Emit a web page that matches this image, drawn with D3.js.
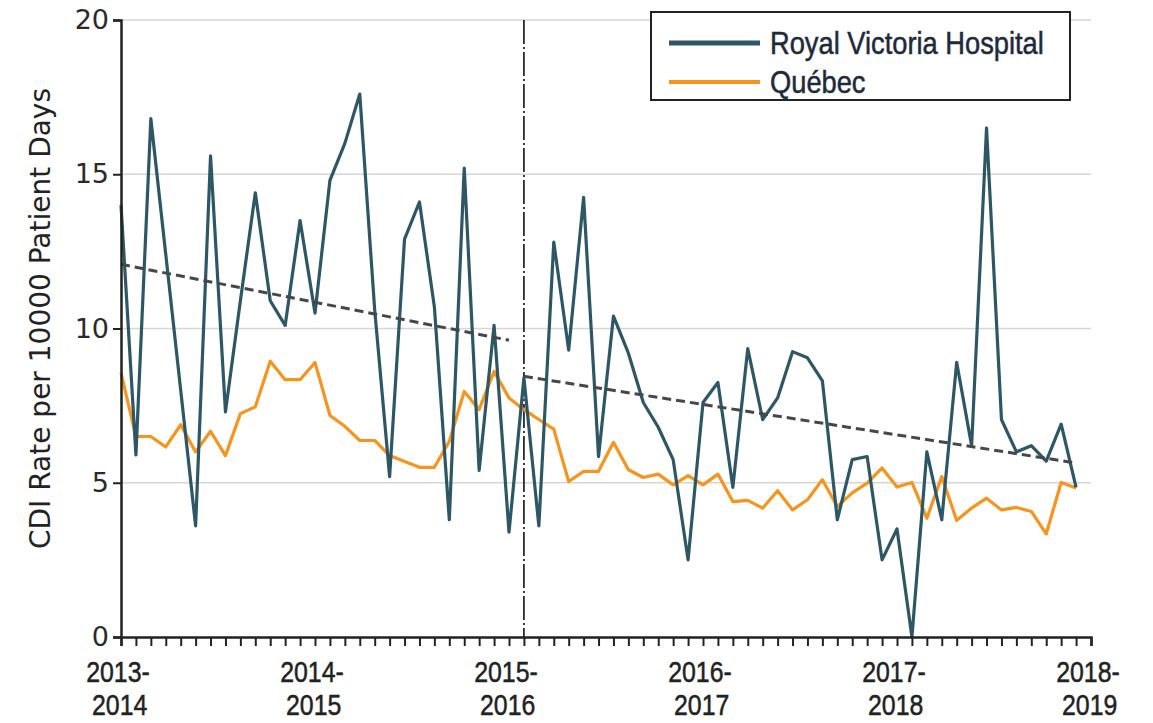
<!DOCTYPE html>
<html>
<head>
<meta charset="utf-8">
<script src="https://cdn.jsdelivr.net/npm/d3@7"></script>
<style>
  body { margin: 0; background: #fff; }
  svg { display: block; }
</style>
</head>
<body>
<svg id="chart" width="1153" height="723"></svg>
<script>
// fiscal periods (13 per year), index of first period of each year
const yearStarts = [0, 13, 26, 39, 52, 65];
const yearLabels = [['2013-', '2014'], ['2014-', '2015'], ['2015-', '2016'], ['2016-', '2017'], ['2017-', '2018'], ['2018-', '2019']];
const yTicks = [0, 5, 10, 15, 20];

// CDI rate per 10000 patient days, one value per period
const rvh = [14.0, 5.9, 16.8, 12.4, 8.0, 3.6, 15.6, 7.3, 10.9, 14.4,
  10.9, 10.1, 13.5, 10.5, 14.8, 16.0, 17.6, 10.6, 5.2, 12.9,
  14.1, 10.7, 3.8, 15.2, 5.4, 10.1, 3.4, 8.4, 3.6, 12.8,
  9.3, 14.25, 5.85, 10.4, 9.2, 7.6, 6.8, 5.75, 2.5, 7.6,
  8.25, 4.85, 9.35, 7.05, 7.75, 9.25, 9.05, 8.3, 3.8, 5.75,
  5.85, 2.5, 3.5, 0.0, 6.0, 3.8, 8.9, 6.2, 16.5, 7.05,
  6.0, 6.2, 5.7, 6.9, 4.85];
const quebec = [8.56, 6.5, 6.5, 6.16, 6.88, 6.0, 6.67, 5.88, 7.24, 7.46,
  8.94, 8.34, 8.34, 8.9, 7.18, 6.83, 6.37, 6.37, 5.88, 5.69,
  5.5, 5.5, 6.34, 7.96, 7.37, 8.61, 7.75, 7.37, 7.05, 6.74,
  5.04, 5.37, 5.37, 6.31, 5.42, 5.17, 5.28, 4.93, 5.23, 4.93,
  5.28, 4.39, 4.43, 4.18, 4.74, 4.12, 4.45, 5.1, 4.23, 4.67,
  4.99, 5.48, 4.86, 5.01, 3.85, 5.2, 3.78, 4.18, 4.5, 4.12,
  4.2, 4.07, 3.34, 5.01, 4.83];

// segmented regression trends: [period, value]
const preTrend = [[0, 12.08], [26, 9.62]];
const postTrend = [[27, 8.45], [64, 5.64]];
const interventionPeriod = 27;

const colors = { rvh: '#2e5765', quebec: '#f7941d', trend: '#474747', grid: '#d6d6d6', axis: '#222' };
const tickFont = '"DejaVu Sans", sans-serif';
// condensed look: Liberation Sans squeezed horizontally
const narrowFont = '"Liberation Sans", Arial, sans-serif';

const svg = d3.select('#chart');
const x = d3.scaleLinear().domain([0, 65]).range([121, 1091]);
const y = d3.scaleLinear().domain([0, 20]).range([637, 20]);

// gridlines
svg.append('g')
  .selectAll('line')
  .data(yTicks.filter(d => d > 0))
  .join('line')
  .attr('x1', x(0))
  .attr('x2', x(65))
  .attr('y1', d => y(d))
  .attr('y2', d => y(d))
  .attr('stroke', colors.grid)
  .attr('stroke-width', 1.5);

// intervention line
svg.append('line')
  .attr('x1', x(interventionPeriod))
  .attr('x2', x(interventionPeriod))
  .attr('y1', y(20))
  .attr('y2', y(0))
  .attr('stroke', '#111')
  .attr('stroke-width', 1.6)
  .attr('stroke-dasharray', '24,3,2,3');

const line = d3.line().x((d, i) => x(i)).y(d => y(d));

svg.append('path')
  .datum(quebec)
  .attr('d', line)
  .attr('fill', 'none')
  .attr('stroke', colors.quebec)
  .attr('stroke-width', 3.2)
  .attr('stroke-linejoin', 'round');

svg.append('path')
  .datum(rvh)
  .attr('d', line)
  .attr('fill', 'none')
  .attr('stroke', colors.rvh)
  .attr('stroke-width', 3.2)
  .attr('stroke-linejoin', 'round');

// trend lines
const trendLine = d3.line().x(d => x(d[0])).y(d => y(d[1]));
svg.selectAll('path.trend')
  .data([preTrend, postTrend])
  .join('path')
  .attr('class', 'trend')
  .attr('d', trendLine)
  .attr('fill', 'none')
  .attr('stroke', colors.trend)
  .attr('stroke-width', 3)
  .attr('stroke-dasharray', '9,5');

// x axis
const xAxis = d3.axisBottom(x)
  .tickValues(d3.range(0, 66))
  .tickSize(9)
  .tickFormat('');
const gx = svg.append('g')
  .attr('transform', `translate(0,${y(0)})`)
  .call(xAxis);
gx.select('.domain').attr('stroke', colors.axis).attr('stroke-width', 2.5);
gx.selectAll('.tick line').attr('stroke', colors.axis).attr('stroke-width', 2);

const xLabels = svg.append('g')
  .selectAll('g')
  .data(yearStarts)
  .join('g')
  .attr('transform', d => `translate(${x(d) - 3},0) scale(0.83,1)`);
[0, 1].forEach(row => {
  xLabels.append('text')
    .attr('x', row * 2)
    .attr('y', 682 + row * 33)
    .attr('text-anchor', 'middle')
    .attr('font-family', narrowFont)
    .attr('font-size', 30)
    .attr('fill', '#222')
    .attr('stroke', '#222')
    .attr('stroke-width', 0.5)
    .text((d, i) => yearLabels[i][row]);
});

// y axis
const yAxis = d3.axisLeft(y).tickValues(yTicks).tickSize(8).tickPadding(4);
const gy = svg.append('g')
  .attr('transform', `translate(${x(0)},0)`)
  .call(yAxis);
gy.select('.domain').attr('stroke', colors.axis).attr('stroke-width', 2.5);
gy.selectAll('.tick line').attr('stroke', colors.axis).attr('stroke-width', 2);
gy.selectAll('.tick text')
  .attr('font-family', tickFont)
  .attr('font-size', 27)
  .attr('fill', '#2a2a2a');

svg.append('text')
  .attr('transform', `translate(50,${(y(0) + y(20)) / 2 - 10}) rotate(-90)`)
  .attr('text-anchor', 'middle')
  .attr('font-family', tickFont)
  .attr('font-size', 28)
  .attr('fill', '#222')
  .text('CDI Rate per 10000 Patient Days');

// legend
const legend = svg.append('g').attr('transform', 'translate(651,12)');
legend.append('rect')
  .attr('width', 419)
  .attr('height', 88)
  .attr('fill', '#fff')
  .attr('stroke', '#222')
  .attr('stroke-width', 2);
const legendItems = [
  { name: 'Royal Victoria Hospital', color: colors.rvh, width: 5 },
  { name: 'Québec', color: colors.quebec, width: 4 }
];
const li = legend.selectAll('g.item')
  .data(legendItems)
  .join('g')
  .attr('class', 'item')
  .attr('transform', (d, i) => `translate(0,${31 + i * 39})`);
li.append('line')
  .attr('x1', 18)
  .attr('x2', 109)
  .attr('stroke', d => d.color)
  .attr('stroke-width', d => d.width);
li.append('text')
  .attr('transform', 'translate(119,11) scale(0.88,1)')
  .attr('font-family', narrowFont)
  .attr('font-size', 31)
  .attr('fill', '#1e2a3a')
  .attr('stroke', '#1e2a3a')
  .attr('stroke-width', 0.5)
  .text(d => d.name);
</script>
</body>
</html>
